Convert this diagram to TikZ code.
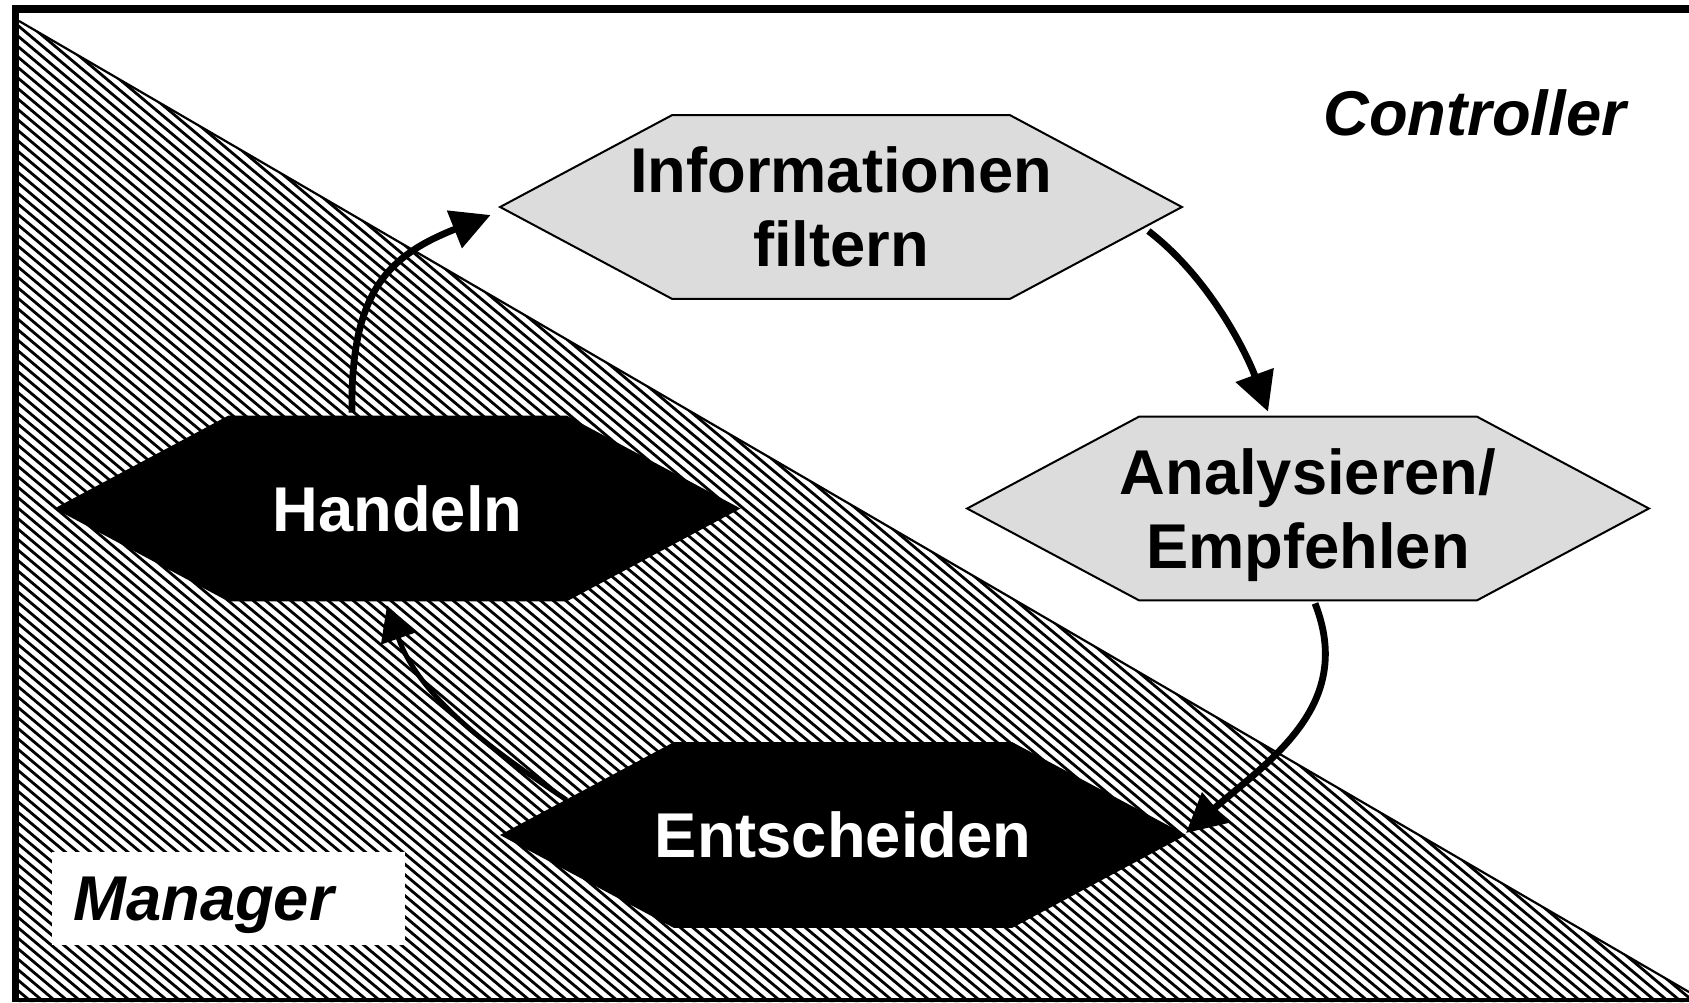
\documentclass[tikz,border=0pt]{standalone}
\usepackage{fontspec}
\setmainfont{Liberation Sans}
\usetikzlibrary{arrows.meta,calc,backgrounds}
\definecolor{hexgray}{RGB}{220,220,220}
\newcommand{\hexfont}{\fontsize{31.65}{37}\selectfont\bfseries}
\begin{document}
\begin{tikzpicture}[x=0.5pt,y=-0.5pt,
  hexnode/.style={minimum width=340.5pt, minimum height=91.5pt, inner sep=0pt, align=center, font=\hexfont, text=black},
  hexdark/.style={hexnode, text=white},
  rolelabel/.style={anchor=base west, inner sep=0pt, font=\fontsize{31.65}{37}\selectfont\bfseries\itshape},
  bigarrow/.style={line width=3.4pt, -{Triangle[length=19.5pt,width=19.5pt]}},
  thinarrow/.style={line width=2.5pt, -{Triangle[length=17.5pt,width=18pt]}},
  hatchline/.style={line width=1.4pt, black}
]
\useasboundingbox (0,0) rectangle (1689,1002);

% hexagon nodes (text)
\node[hexnode] (info) at (841,207) {Informationen\\filtern};
\node[hexnode] (ana) at (1308,508.5) {Analysieren/\\\smash{Empfehlen}};
\node[hexdark] (hand) at (397.5,508.5) {Handeln};
\node[hexdark] (ent) at (843,835) {Entscheiden};

\begin{pgfonlayer}{background}
  \fill[white] (0,0) rectangle (1689,1002);
  % hatched triangle (Manager area)
  \begin{scope}
    \clip (19,21) -- (1689,992) -- (1689,1002) -- (19,1002) -- cycle;
    \foreach \k in {-100,...,140}
      \draw[hatchline] ({\k*12.5},0) -- ++({2200*cos(40)},{2200*sin(40)});
  \end{scope}
  \draw[line width=1.1pt] (19,21) -- (1689,992);
  % hexagon outlines
  \foreach \n/\c in {info/hexgray, ana/hexgray, hand/black, ent/black}
    \filldraw[fill=\c, draw=black, line width=1pt]
      (\n.west) -- ([xshift=86pt]\n.north west) -- ([xshift=-86pt]\n.north east)
      -- (\n.east) -- ([xshift=-86pt]\n.south east) -- ([xshift=86pt]\n.south west) -- cycle;
\end{pgfonlayer}

% role labels
\fill[white] (52,852) rectangle (405,945);
\node[rolelabel] (mgr) at (73,920) {Manager};
\node[rolelabel] (ctrl) at (1323,135) {Controller};

% connectors
\draw[bigarrow] ($(hand.north)+(-45.5,-4)$) .. controls (350,290) and (390,255) .. ($(info.west)+(-9.5,8)$);
\draw[bigarrow] ($(info.east)+(-33.5,24)$) .. controls (1212,280) and (1248,357) .. ($(ana.north)+(-40,-5)$);
\draw[bigarrow] ($(ana.south)+(7,3)$) .. controls (1355,705) and (1270,760) .. ($(ent.east)+(2,-2)$);
\draw[thinarrow] ($(ent.west)+(64.5,-35)$) .. controls (500,755) and (420,700) .. ($(hand.south)+(-10.5,5)$);

% outer frame (right side lies beyond the picture)
\fill[black] (12,5) rectangle (1689,13);
\fill[black] (12,5) rectangle (19,1002);
\fill[black] (12,998) rectangle (1689,1002);
\end{tikzpicture}
\end{document}
